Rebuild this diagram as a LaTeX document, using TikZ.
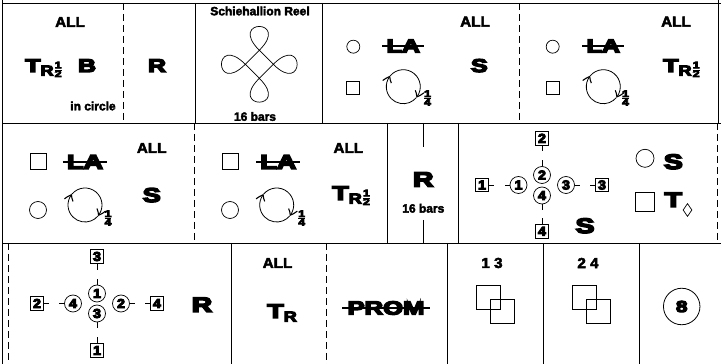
\documentclass[tikz,border=0pt]{standalone}
\usepackage{fontspec}
\setmainfont{Liberation Sans}
\newfontfamily\blackface{Liberation Sans}[BoldFeatures={FakeBold=7}]
\newfontfamily\boldface{Liberation Sans}[BoldFeatures={FakeBold=3}]
\usepackage{graphicx}
\usetikzlibrary{arrows.meta,bending,shapes.geometric}

\newcommand{\heavy}[2][18.5]{\scalebox{1.35}[1]{\fontsize{#1}{#1}\selectfont\blackface\bfseries #2}}
\newcommand{\callword}[1]{\scalebox{1.05}[1]{\fontsize{14.5}{15}\selectfont\boldface\bfseries #1}}
\newcommand{\digit}[1]{\scalebox{1.1}[1]{\fontsize{13}{13}\selectfont\blackface\bfseries #1}}
\newcommand{\frcdigit}[1]{\mbox{\scalebox{1.3}[1]{\blackface\bfseries #1}}}
\newcommand{\frc}[2]{{\fontsize{9.5}{9.5}\selectfont$\frac{\frcdigit{#1}}{\frcdigit{#2}}$}}
\newcommand{\subR}{\raisebox{-3.5pt}{\scalebox{1.25}[1]{\fontsize{14.5}{15}\selectfont\blackface\bfseries R}}}
\newcommand{\turnhalf}[1][18.5]{\heavy[#1]{T}\subR\frc{1}{2}}

\begin{document}
\begin{tikzpicture}[x=1pt,y=1pt,
  rule/.style={line width=0.8pt},
  cut/.style={line width=0.8pt,dash pattern=on 7pt off 4pt},
  word/.style={inner sep=0pt},
  small/.style={inner sep=0pt,font=\fontsize{12}{12}\selectfont\boldface\bfseries},
  lady/.style={draw,circle,line width=0.7pt,minimum size=#1,inner sep=0pt},
  lady/.default=13pt,
  man/.style={draw,line width=0.7pt,minimum size=#1,inner sep=0pt},
  man/.default=13pt,
  ladynum/.style={draw,circle,line width=0.7pt,minimum size=17pt,inner sep=0pt},
  mannum/.style={draw,line width=0.7pt,minimum size=13.5pt,inner sep=0pt},
  stub/.style={line width=0.7pt},
  strike/.style={line width=1.2pt},
  rot/.style={line width=0.8pt},
  rottip/.style={rot,-{Straight Barb[length=6pt,width=9pt,line width=1.1pt,bend]}}]
\useasboundingbox (0,0) rectangle (721,364);
\fill[white] (0,0) rectangle (721,364);

\draw[rule] (2,364) -- (2,0);
\foreach \y in {361,241,121} \draw[rule] (2,\y) -- (721,\y);
\foreach \x in {123,519} \draw[cut] (\x,361) -- (\x,241);
\foreach \x in {195,322} \draw[rule] (\x,361) -- (\x,241);
\draw[rule] (718.5,364) -- (718.5,241);
\foreach \x in {194.3,717.3} \draw[cut] (\x,241) -- (\x,121);
\foreach \x in {387.3,458.3} \draw[rule] (\x,241) -- (\x,121);
\foreach \x in {8.3,326.7} \draw[cut] (\x,121) -- (\x,0);
\foreach \x in {231.7,447.3,543.3,639.3} \draw[rule] (\x,121) -- (\x,0);

\node[word] (all1) at (70,342) {\callword{ALL}};
\node[word,anchor=base west] (turn1) at (25,292) {\turnhalf};
\node[word,anchor=base] (back1) at (87,292) {\heavy{B}};
\node[small] (incircle) at (93,258) {in circle};
\node[word,anchor=base] (reel1) at (157,292) {\heavy{R}};

\node[small] (title) at (260,353) {Schiehallion Reel};
\begin{scope}[shift={(259.3,299.7)}]
\draw[line width=0.7pt] (-14,0) -- (0,14) .. controls +(45:45) and +(135:45) .. (0,14)
  -- (14,0) .. controls +(-45:45) and +(45:45) .. (14,0)
  -- (0,-14) .. controls +(-135:45) and +(-45:45) .. (0,-14)
  -- (-14,0) .. controls +(135:45) and +(-135:45) .. (-14,0) -- cycle;
\end{scope}
\node[small] (bars1) at (255,247.5) {16 bars};

\node[lady] (o1) at (353.3,317.3) {};
\node[man] (sq1) at (353.3,275.7) {};
\node[word] (la1) at (403.3,318) {\heavy{LA}};
\draw[strike] ([xshift=-4pt]la1.west) -- ([xshift=4pt]la1.east);
\node[word] (all2) at (475,342.3) {\callword{ALL}};
\node[word,anchor=base] (set1) at (479.3,292) {\heavy{S}};
\node[word] (q1) at (427.5,266) {\frc{1}{4}};

\node[lady] (o2) at (552.7,317.3) {};
\node[man] (sq2) at (552.7,275.7) {};
\node[word] (la2) at (603.3,318) {\heavy{LA}};
\draw[strike] ([xshift=-4pt]la2.west) -- ([xshift=4pt]la2.east);
\node[word] (all3) at (676,342.3) {\callword{ALL}};
\node[word,anchor=base west] (turn2) at (663,292) {\turnhalf};
\node[word] (q2) at (625.5,266) {\frc{1}{4}};

\node[man=16pt] (sq3) at (38.3,202.3) {};
\node[lady=17pt] (o3) at (38,154) {};
\node[word] (la3) at (85,202) {\heavy[20]{LA}};
\draw[strike] ([xshift=-4pt]la3.west) -- ([xshift=4pt]la3.east);
\node[word] (all4) at (151.7,216) {\callword{ALL}};
\node[word,anchor=base] (set2) at (151.7,162) {\heavy[20]{S}};
\node[word] (q3) at (108,146) {\frc{1}{4}};

\node[man=16pt] (sq4) at (230,202.3) {};
\node[lady=17pt] (o4) at (230,154) {};
\node[word] (la4) at (278.3,202) {\heavy[20]{LA}};
\draw[strike] ([xshift=-4pt]la4.west) -- ([xshift=4pt]la4.east);
\node[word] (all5) at (348.3,216) {\callword{ALL}};
\node[word,anchor=base west] (turn3) at (332,164) {\turnhalf[20]};
\node[word] (q4) at (301.7,146) {\frc{1}{4}};

\foreach \cx/\cy in {403.3/277.3,603.3/277.3,85/159,276.7/159} {
  \draw[rot] (\cx,\cy) ++(-40:17) arc (-40:-135:17);
  \draw[rottip] (\cx,\cy) ++(225:17) arc (225:140:17);
  \draw[rottip] (\cx,\cy) ++(140:17) arc (140:-40:17);
}

\node[word,anchor=base] (reel2) at (423.3,177.3) {\heavy[21]{R}};
\node[small] (bars2) at (423.3,155.7) {16 bars};
\draw[rule] (423.3,241) -- (423.3,217.3);
\draw[rule] (423.3,144) -- (423.3,121);

\node[mannum] (m2) at (542,225.7) {\digit{2}};
\node[ladynum] (w2) at (542,189) {\digit{2}};
\node[ladynum] (w4) at (542,168.5) {\digit{4}};
\node[mannum] (m4) at (542,132.7) {\digit{4}};
\node[mannum] (m1) at (482,179) {\digit{1}};
\node[ladynum] (w1) at (518.5,179) {\digit{1}};
\node[ladynum] (w3) at (566,179) {\digit{3}};
\node[mannum] (m3) at (602,179) {\digit{3}};
\draw[stub] (m2.south) -- ++(0,-6);
\draw[stub] (w2.north) -- ++(0,6);
\draw[stub] (w4.south) -- ++(0,-6);
\draw[stub] (m4.north) -- ++(0,6);
\draw[stub] (m1.east) -- ++(5,0);
\draw[stub] (w1.west) -- ++(-5,0);
\draw[stub] (w3.east) -- ++(5,0);
\draw[stub] (m3.west) -- ++(-5,0);
\node[word,anchor=base] (set3) at (585,131) {\heavy[21]{S}};

\node[lady=18pt] (o5) at (645,205.7) {};
\node[word,anchor=base] (set4) at (673.3,195) {\heavy[21]{S}};
\node[man=19pt] (sq5) at (645,162.3) {};
\node[word,anchor=base] (turn4) at (673.3,157) {\heavy[21]{T}};
\node[draw,diamond,line width=0.7pt,minimum width=9pt,minimum height=13pt,inner sep=0pt] (dia) at (687.5,154) {};

\node[mannum] (mm3) at (97,107.5) {\digit{3}};
\node[ladynum] (ww1) at (97,70.5) {\digit{1}};
\node[ladynum] (ww3) at (97,50.5) {\digit{3}};
\node[mannum] (mm1) at (97,13.5) {\digit{1}};
\node[mannum] (mm2) at (37,60.5) {\digit{2}};
\node[ladynum] (ww4) at (73,60.5) {\digit{4}};
\node[ladynum] (ww2) at (121,60.5) {\digit{2}};
\node[mannum] (mm4) at (157,60.5) {\digit{4}};
\draw[stub] (mm3.south) -- ++(0,-6);
\draw[stub] (ww1.north) -- ++(0,6);
\draw[stub] (ww3.south) -- ++(0,-6);
\draw[stub] (mm1.north) -- ++(0,6);
\draw[stub] (mm2.east) -- ++(5,0);
\draw[stub] (ww4.west) -- ++(-5,0);
\draw[stub] (ww2.east) -- ++(5,0);
\draw[stub] (mm4.west) -- ++(-5,0);
\node[word,anchor=base] (reel3) at (202,52) {\heavy[21]{R}};

\node[word] (all6) at (277.5,101) {\callword{ALL}};
\node[word,anchor=base west] (turn5) at (267,46) {\heavy[20]{T}\subR};

\node[word] (prom) at (386,56) {\heavy[19]{PROM}};
\draw[strike] ([xshift=-5pt]prom.west) -- ([xshift=5pt]prom.east);

\node[word] (c13) at (492,101) {\callword{1 3}};
\node[draw,line width=0.7pt,minimum size=24pt,inner sep=0pt] (sqa1) at (488,67) {};
\node[draw,line width=0.7pt,minimum size=24pt,inner sep=0pt] (sqb1) at (502,52.5) {};
\node[word] (c24) at (588,101) {\callword{2 4}};
\node[draw,line width=0.7pt,minimum size=24pt,inner sep=0pt] (sqa2) at (584,67) {};
\node[draw,line width=0.7pt,minimum size=24pt,inner sep=0pt] (sqb2) at (598,52.5) {};

\node[draw,circle,line width=0.8pt,minimum size=36.5pt,inner sep=0pt] (eight) at (681.7,57.5)
  {\scalebox{1.3}[1]{\fontsize{16}{16}\selectfont\blackface\bfseries 8}};
\end{tikzpicture}
\end{document}
